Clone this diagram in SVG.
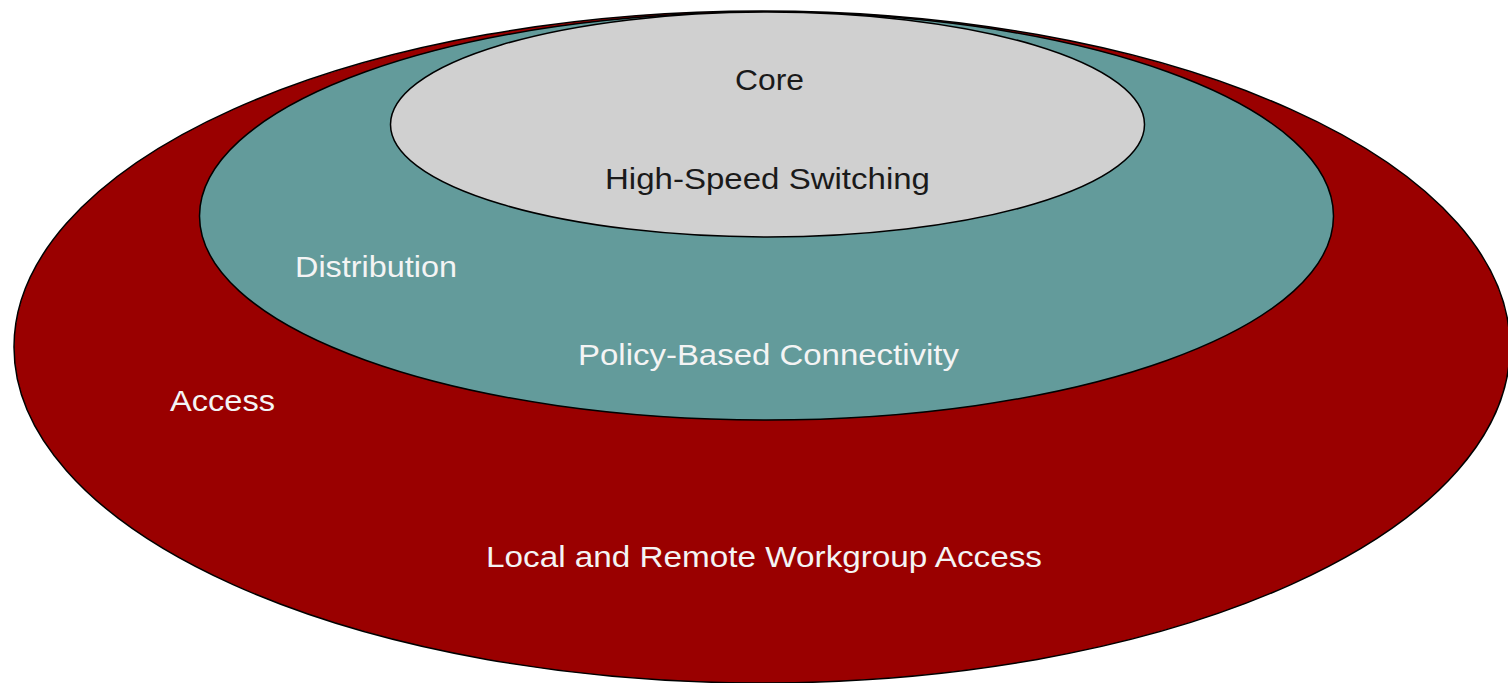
<svg xmlns="http://www.w3.org/2000/svg" width="1508" height="683" viewBox="0 0 1508 683">
<style>
.ring{stroke:#000;stroke-width:1.5}
.lbl{font-family:"Liberation Sans",Arial,sans-serif;font-size:30px}
.light{fill:#F4F4F4}
.dark{fill:#1A1A1A}
</style>
<rect width="1508" height="683" fill="#FFFFFF"/>
<g id="access">
<ellipse class="ring" cx="762" cy="347" rx="748" ry="336" fill="#9A0000"/>
<text class="lbl light" x="170" y="411" textLength="105" lengthAdjust="spacingAndGlyphs">Access</text>
<text class="lbl light" x="486" y="567" textLength="556" lengthAdjust="spacingAndGlyphs">Local and Remote Workgroup Access</text>
</g>
<g id="distribution">
<ellipse class="ring" cx="766.5" cy="216" rx="567" ry="204" fill="#639B9B"/>
<text class="lbl light" x="295" y="277" textLength="162" lengthAdjust="spacingAndGlyphs">Distribution</text>
<text class="lbl light" x="578" y="365" textLength="381" lengthAdjust="spacingAndGlyphs">Policy-Based Connectivity</text>
</g>
<g id="core">
<ellipse class="ring" cx="767.5" cy="124.5" rx="377" ry="112.5" fill="#D0D0D0"/>
<text class="lbl dark" x="735" y="90" textLength="69" lengthAdjust="spacingAndGlyphs">Core</text>
<text class="lbl dark" x="605" y="189" textLength="325" lengthAdjust="spacingAndGlyphs">High-Speed Switching</text>
</g>
</svg>
